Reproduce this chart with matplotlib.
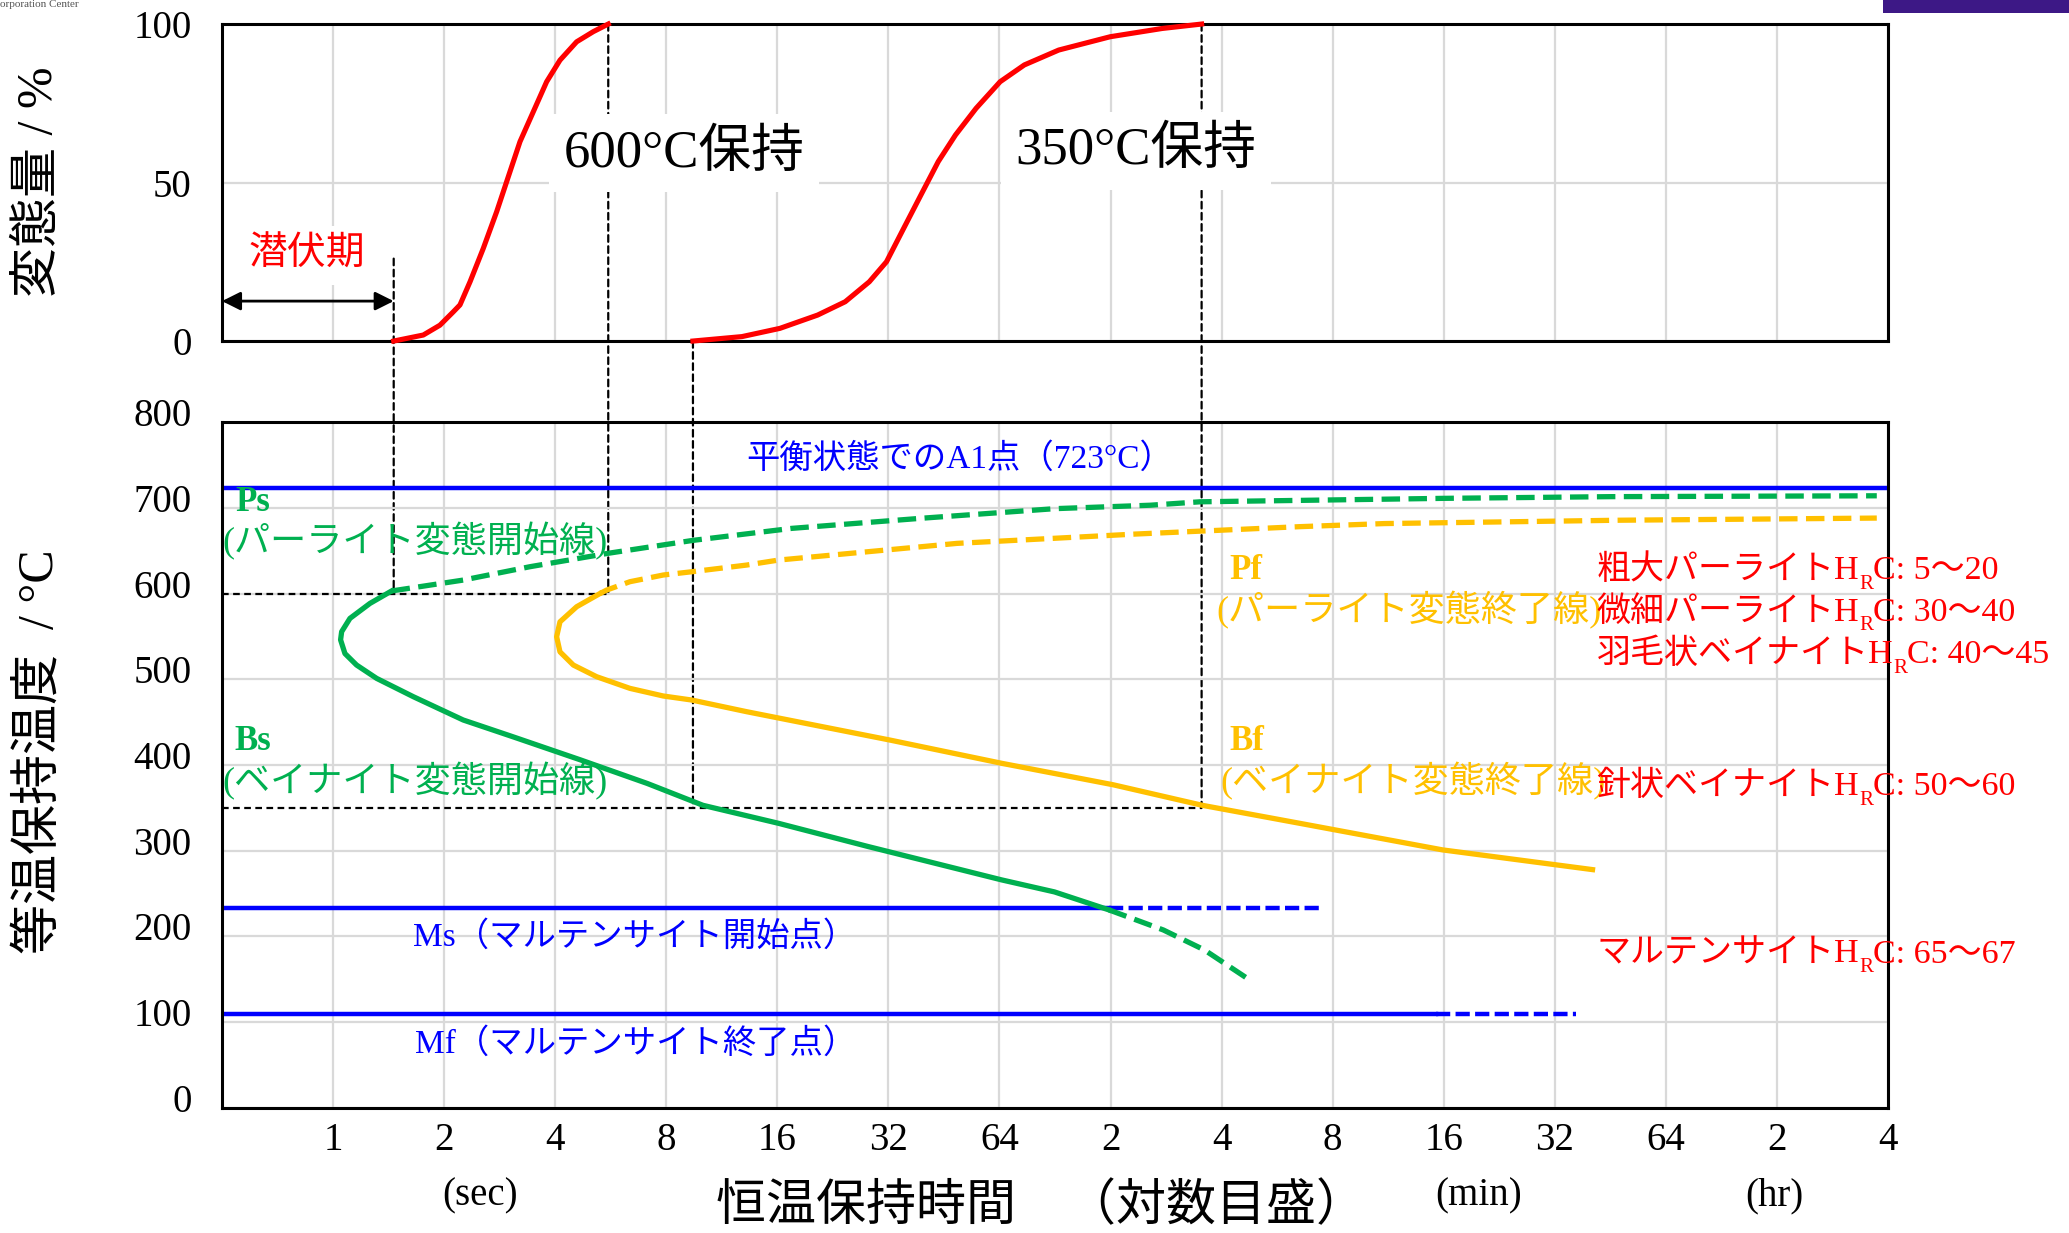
import matplotlib.pyplot as plt
from matplotlib.patches import ConnectionPatch, Rectangle
from matplotlib.ticker import NullLocator
from matplotlib.transforms import ScaledTranslation

plt.rcParams['font.family'] = ['Liberation Serif', 'Noto Sans CJK JP']

GREEN = '#00b050'
ORANGE = '#ffc000'
BLUE = '#0000ff'
RED = '#ff0000'

# x axis: holding time in seconds on a log2 scale
tick_sec = [2 ** k for k in range(15)]
tick_lbl = ["1", "2", "4", "8", "16", "32", "64", "2", "4", "8", "16", "32", "64", "2", "4"]

# top: transformed amount (%)
t600 = [1.46, 1.756, 1.948, 2.117, 2.208, 2.351, 2.553, 2.776, 2.955, 3.211, 3.488,
        3.792, 4.121, 4.573, 5.073, 5.57]
v600 = [0, 1.9, 5, 9.2, 11.4, 18.7, 29.2, 40.8, 50.3, 62.9, 72.3, 81.8, 88.6, 94.4, 97.6, 100]
t350 = [9.45, 12.83, 16.26, 20.58, 24.44, 28.41, 31.62, 35.22, 39.21, 43.68, 48.64, 55.3,
        64.27, 74.75, 92.66, 127.8, 176.6, 226]
v350 = [0, 1.4, 4, 8.2, 12.4, 18.7, 25, 35.6, 46.1, 56.6, 65, 73.4, 81.8, 87.1, 91.8, 96,
        98.6, 100]

# bottom: TTT curves (time s, temperature C)
bs_t = [1.441, 1.259, 1.111, 1.055, 1.048, 1.077, 1.158, 1.313, 1.650, 2.253, 3.080, 4.682,
        7.105, 10.06, 16.12, 28.15, 64.9, 90.2, 126.8]
bs_T = [603, 588.5, 571, 555.5, 546, 530, 516.6, 501, 479.7, 452.5, 432.8, 406, 378.5,
        353, 332, 305, 266, 252, 231]
bs_low_t = [126.8, 178, 230, 310]
bs_low_T = [231, 207.6, 184.3, 147.3]
ps_t = [1.441, 2.253, 3.418, 5.58, 9.45, 17.5, 39.9, 90.5, 164, 224, 1017, 2900, 15280]
ps_T = [603, 615.7, 631.3, 647, 662, 676, 688, 699, 703, 707, 711, 713, 714]

bf_t = [5.289, 4.573, 4.121, 4.036, 4.121, 4.479, 5.180, 6.377, 7.851, 9.376, 13.21, 32.4,
        64.9, 130, 227, 417, 1017, 2592]
bf_T = [600, 584.6, 567, 549.6, 532, 516.6, 503, 489.4, 480.5, 475.8, 462.2, 429, 402, 377,
        353, 332, 301, 278]
pf_t = [5.289, 5.514, 6.377, 7.851, 9.376, 13.21, 16.1, 49.1, 150, 417, 707, 3061, 15280]
pf_T = [600, 604, 613.8, 621.6, 625.4, 633.2, 639, 658.5, 669.4, 678, 681.6, 685.5, 688]

A1 = 723
Ms, Ms_solid_end, Ms_dash_end = 233, 126.8, 474
Mf, Mf_solid_end, Mf_dash_end = 110, 975, 2336

# guide lines between the two panels
guide_x = [1.46, 5.57, 9.45, 226]
guide_top = [26, 100, 0, 100]
guide_T = [600, 600, 350, 350]

fig = plt.figure(figsize=(20.69, 12.33), dpi=100)
ax1 = fig.add_axes([0.1073, 0.7234, 0.8052, 0.2571])
ax2 = fig.add_axes([0.1073, 0.1014, 0.8052, 0.5563])

for ax in (ax1, ax2):
    ax.set_xscale('log', base=2)
    ax.set_xlim(0.5, 2 ** 14)
    ax.set_xticks(tick_sec)
    ax.xaxis.set_minor_locator(NullLocator())
    ax.grid(True, color='#d9d9d9', lw=1.6)
    ax.set_axisbelow(True)
    ax.tick_params(length=0, labelsize=28)
    ax.tick_params(axis='y', pad=22)
    ax.tick_params(axis='x', pad=10)
    for s in ax.spines.values():
        s.set_linewidth(2.2)

ax1.set_xticklabels([])
ax2.set_xticklabels(tick_lbl)
ax1.set_ylim(0, 100)
ax1.set_yticks([0, 50, 100])
ax2.set_ylim(0, 800)
ax2.set_yticks(range(0, 801, 100))
ax2.patch.set_visible(False)

# temperature labels sit a little above their grid lines
lift = ScaledTranslation(0, 0.10, fig.dpi_scale_trans)
for lab in ax2.get_yticklabels():
    lab.set_transform(lab.get_transform() + lift)

# ---- top panel ----
ax1.plot(t600, v600, color=RED, lw=3.7, clip_on=False, zorder=2.6)
ax1.plot(t350, v350, color=RED, lw=3.7, clip_on=False, zorder=2.6)

ax1.annotate('', xy=(0.5, 12.6), xytext=(guide_x[0], 12.6),
             arrowprops=dict(arrowstyle='<|-|>', color='black', lw=2,
                             mutation_scale=28, shrinkA=0, shrinkB=0))
box = dict(facecolor='white', edgecolor='none', boxstyle='square,pad=0.28')
ax1.text(0.85, 27, '潜伏期', color=RED, fontsize=28, ha='center', va='center',
         bbox=box, zorder=3)
ax1.text(8.93, 59.2, '600°C保持', fontsize=38, ha='center', va='center', bbox=box, zorder=3)
ax1.text(150, 59.9, '350°C保持', fontsize=38, ha='center', va='center', bbox=box, zorder=3)

for x, v, T in zip(guide_x, guide_top, guide_T):
    con = ConnectionPatch(xyA=(x, v), coordsA=ax1.transData, xyB=(x, T),
                          coordsB=ax2.transData, color='black', lw=1.6,
                          linestyle=(0, (3, 2)), zorder=2)
    con.set_clip_on(False)
    ax1.add_artist(con)

# ---- bottom panel ----
ax2.plot([0.5, guide_x[1]], [guide_T[1]] * 2, color='black', lw=1.6, ls=(0, (3, 2)))
ax2.plot([0.5, guide_x[3]], [guide_T[3]] * 2, color='black', lw=1.6, ls=(0, (3, 2)))

ax2.axhline(A1, color=BLUE, lw=3.2, zorder=2)
ax2.plot([0.5, Ms_solid_end], [Ms, Ms], color=BLUE, lw=3.2, zorder=2)
ax2.plot([Ms_solid_end, Ms_dash_end], [Ms, Ms], color=BLUE, lw=3.2, ls=(0, (3.2, 1.2)), zorder=2)
ax2.plot([0.5, Mf_solid_end], [Mf, Mf], color=BLUE, lw=3.2, zorder=2)
ax2.plot([Mf_solid_end, Mf_dash_end], [Mf, Mf], color=BLUE, lw=3.2, ls=(0, (3.2, 1.2)), zorder=2)

ax2.plot(bs_t, bs_T, color=GREEN, lw=3.8, zorder=2.5)
ax2.plot(bs_low_t, bs_low_T, color=GREEN, lw=3.8, ls=(0, (3.5, 1.6)), zorder=2.5)
ax2.plot(ps_t, ps_T, color=GREEN, lw=3.8, ls=(0, (3.5, 1.6)), zorder=2.5)
ax2.plot(bf_t, bf_T, color=ORANGE, lw=3.8, zorder=2.5)
ax2.plot(pf_t, pf_T, color=ORANGE, lw=3.8, ls=(0, (3.5, 1.6)), zorder=2.5)

ax2.text(49.8, 757, '平衡状態でのA1点（723°C）', color=BLUE, fontsize=24, ha='center', va='center')
ax2.text(1.65, 199.6, 'Ms（マルテンサイト開始点）', color=BLUE, fontsize=24, ha='left', va='center')
ax2.text(1.67, 75, 'Mf（マルテンサイト終了点）', color=BLUE, fontsize=24, ha='left', va='center')

ax2.text(0.542, 706, 'Ps', color=GREEN, fontsize=25, fontweight='bold', va='center')
ax2.text(0.5, 661, '(パーライト変態開始線)', color=GREEN, fontsize=26, va='center')
ax2.text(0.542, 427, 'Bs', color=GREEN, fontsize=25, fontweight='bold', va='center')
ax2.text(0.5, 381, '(ベイナイト変態開始線)', color=GREEN, fontsize=26, va='center')

ax2.text(269, 627, 'Pf', color=ORANGE, fontsize=25, fontweight='bold', va='center')
ax2.text(248, 580, '(パーライト変態終了線)', color=ORANGE, fontsize=26, va='center')
ax2.text(269, 427, 'Bf', color=ORANGE, fontsize=25, fontweight='bold', va='center')
ax2.text(254, 381, '(ベイナイト変態終了線)', color=ORANGE, fontsize=26, va='center')


def hrc(x, y, head, tail, size=24.5):
    t1 = ax2.text(x, y, head + 'H', color=RED, fontsize=size, ha='left', va='baseline')
    t2 = ax2.annotate('R', xy=(1, y), xycoords=(t1, 'data'), xytext=(0, -7),
                      textcoords='offset points', color=RED, fontsize=size * 0.62,
                      ha='left', va='baseline')
    ax2.annotate('C: ' + tail, xy=(1, y), xycoords=(t2, 'data'), color=RED,
                 fontsize=size, ha='left', va='baseline')


hrc_x = 2656
hrc(hrc_x, 616.5, '粗大パーライト', '5〜20')
hrc(hrc_x, 568.4, '微細パーライト', '30〜40')
hrc(hrc_x, 518.6, '羽毛状ベイナイト', '40〜45')
hrc(hrc_x, 365, '針状ベイナイト', '50〜60')
hrc(hrc_x, 169.5, 'マルテンサイト', '65〜67')

xt = ax2.get_xaxis_transform()
ax2.text(2.5, -0.128, '(sec)', transform=xt, fontsize=28, ha='center', va='center')
ax2.text(1275, -0.128, '(min)', transform=xt, fontsize=28, ha='center', va='center')
ax2.text(8080, -0.128, '(hr)', transform=xt, fontsize=28, ha='center', va='center')

fig.text(0.503, 0.021, '恒温保持時間　（対数目盛）', fontsize=36, ha='center', va='center')
fig.text(0.0193, 0.853, '変態量 / %', fontsize=36, rotation=90, ha='center', va='center')
fig.text(0.0193, 0.390, '等温保持温度  / °C', fontsize=36, rotation=90, ha='center', va='center')

# cropped header fragments
fig.text(0.0, 1.0, 'orporation Center', fontsize=8, color='#555555', ha='left', va='top')
fig.add_artist(Rectangle((0.910, 0.9895), 0.09, 0.0105, transform=fig.transFigure,
                         facecolor='#3d1886', edgecolor='none'))

fig.savefig('out.png', dpi=100)
